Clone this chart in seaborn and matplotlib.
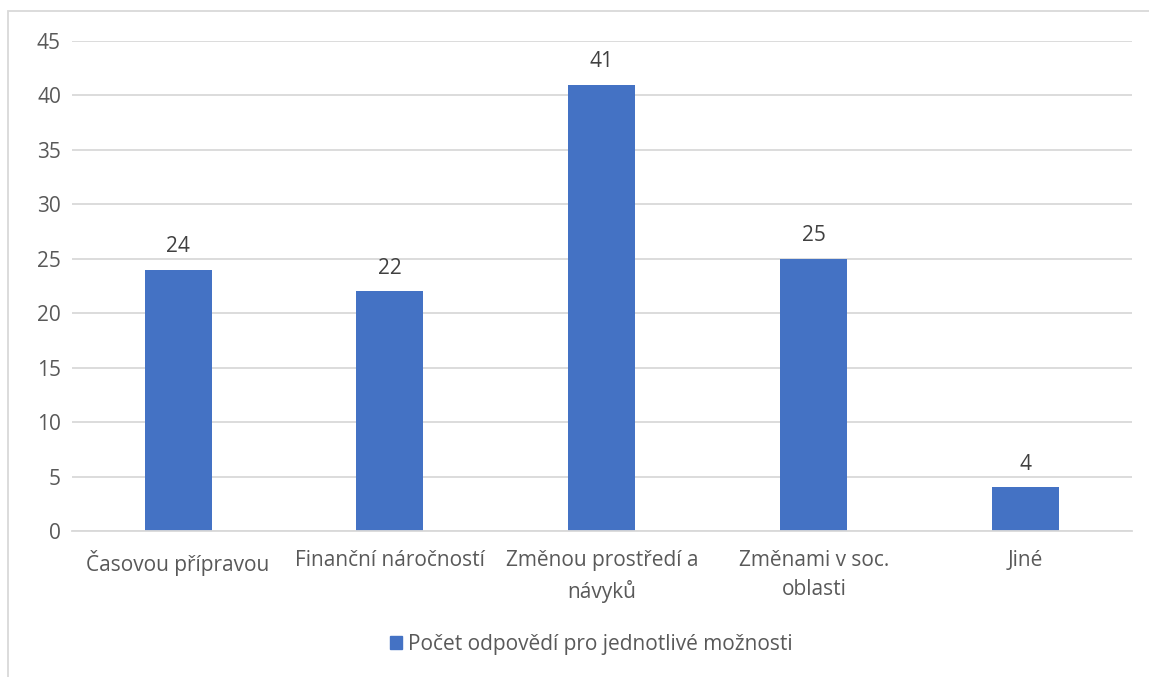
import pandas as pd
import matplotlib.pyplot as plt
import seaborn as sns
from matplotlib.patches import Rectangle, Patch

# Data
kategorie = ['Časovou přípravou', 'Finanční náročností', 'Změnou prostředí a\nnávyků',
             'Změnami v soc.\noblasti', 'Jiné']
pocty = [24, 22, 41, 25, 4]
nazev_rady = 'Počet odpovědí pro jednotlivé možnosti'

df = pd.DataFrame({'Kategorie': kategorie, 'Pocet': pocty})

sns.set_theme(style='white')
plt.rcParams['font.family'] = ['Open Sans', 'DejaVu Sans']
barva = '#4472C4'
text_barva = '#595959'
fs = 15

fig = plt.figure(figsize=(11.49, 6.77), dpi=100)
ax = fig.add_axes([0.0627, 0.2157, 0.9223, 0.7237])

sns.barplot(data=df, x='Kategorie', y='Pocet', color=barva, width=0.316,
            saturation=1, linewidth=0, ax=ax)

ax.set_ylim(0, 45)
ax.set_yticks(range(0, 46, 5))
ax.yaxis.grid(True, color='#D9D9D9', linewidth=1.3)
ax.set_axisbelow(True)
for s in ['top', 'right', 'left']:
    ax.spines[s].set_visible(False)
ax.spines['bottom'].set_color('#D9D9D9')
ax.spines['bottom'].set_linewidth(1.3)
ax.tick_params(axis='both', length=0, labelsize=fs, colors=text_barva)
ax.tick_params(axis='y', pad=8)
ax.tick_params(axis='x', pad=14)
for t in ax.get_xticklabels():
    t.set_linespacing(1.45)
ax.set_xlabel('')
ax.set_ylabel('')

# popisky hodnot
for i, v in enumerate(pocty):
    ax.annotate(str(v), (i, v), xytext=(0, 9), textcoords='offset points',
                ha='center', va='bottom', fontsize=fs, color='#404040')

# legenda
ax.legend(handles=[Patch(color=barva, label=nazev_rady)], loc='center',
          bbox_to_anchor=(0.49, -0.232), frameon=False, fontsize=fs,
          handlelength=0.6, handleheight=0.6, handletextpad=0.3,
          labelcolor=text_barva)

# ramecek grafu
fig.patches.append(Rectangle((8 / 1149, -0.1), 1.2, 1 - 11 / 677 + 0.1,
                             transform=fig.transFigure, fill=False,
                             edgecolor='#D9D9D9', linewidth=1.3))

plt.savefig('out.png', dpi=100)
